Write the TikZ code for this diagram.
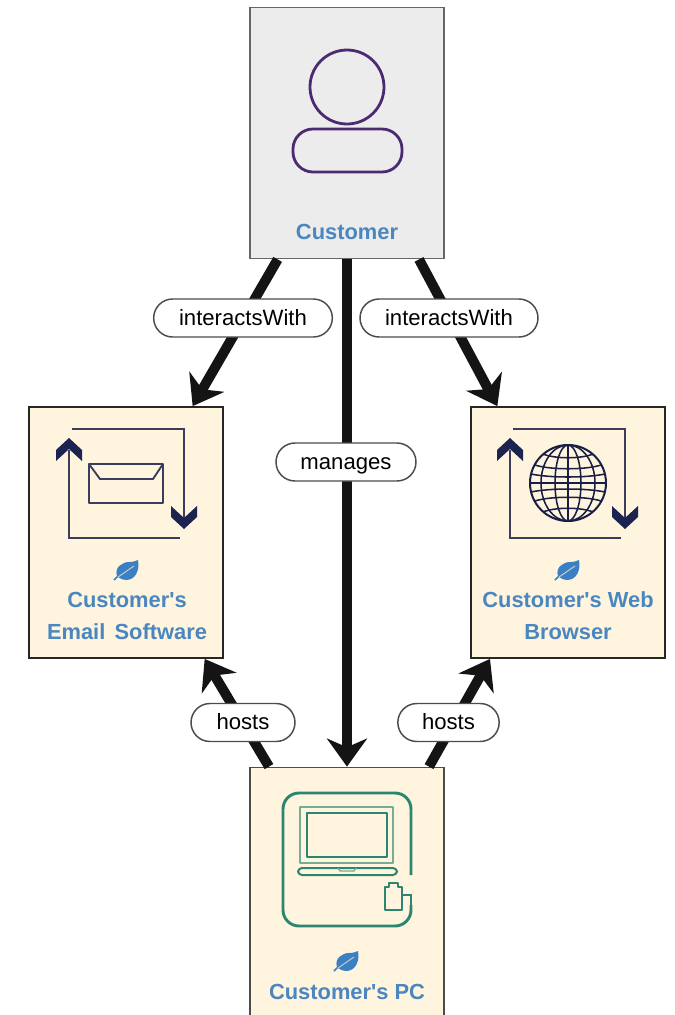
\documentclass[tikz,border=0pt]{standalone}
\usepackage{fontspec}
\setmainfont{Liberation Sans}
\usetikzlibrary{arrows.meta,shapes.misc}
\definecolor{cream}{HTML}{FFF5DF}
\definecolor{greyfill}{HTML}{ECECEC}
\definecolor{titleblue}{HTML}{4A86C0}
\definecolor{leafblue}{HTML}{3B80C2}
\definecolor{navy}{HTML}{1D2350}
\definecolor{iconline}{HTML}{3A3D5C}
\definecolor{teal}{HTML}{2B8570}
\definecolor{plum}{HTML}{4B2A72}
\newcommand{\apos}{\textquotesingle}
\tikzset{
  elementbox/.style={draw=#1,line width=1.1pt,rectangle,minimum width=145.5pt,minimum height=188.5pt,inner sep=0pt},
  boxtitle/.style={font=\fontsize{16.4}{24}\selectfont\bfseries,text=titleblue,align=center,inner sep=0pt},
  pill/.style={rounded rectangle,draw=black!70,line width=1.1pt,fill=white,font=\fontsize{16.6}{20}\selectfont,inner sep=0pt,minimum height=28.5pt,text height=15pt,text depth=3.8pt},
  relation/.style={draw=black!92,line width=7.5pt,-{Stealth[length=21pt,width=30pt,inset=6.5pt]}},
  pics/leaficon/.style={code={
    \fill[leafblue] (-10,5) .. controls (-13,-4) and (-4,-9) .. (2,-9) .. controls (6,-9) and (9,-10) .. (11,-11)
      .. controls (13,0) and (8,9) .. (-1,9) .. controls (-4,9) and (-6,8) .. (-9,6) -- cycle;
    \draw[leafblue,line width=1.1pt] (-9,5) -- (-13,9);
    \draw[cream!70!leafblue,line width=.7pt] (-9,6) .. controls (-3,2) and (1,-1) .. (7,-5);
  }},
  pics/cycleicon/.style={code={
    \draw[iconline,line width=1.9pt] (-55,-54) -- (57,-54) -- (57,36);
    \draw[iconline,line width=1.9pt] (-58,-33) -- (-58,55) -- (53,55);
    \fill[navy] (-58,-45) -- (-45,-33) -- (-45,-22) -- (-58,-34) -- (-71,-22) -- (-71,-33) -- cycle;
    \fill[navy] (57,46) -- (44,34) -- (44,23) -- (57,35) -- (70,23) -- (70,34) -- cycle;
  }}
}
\begin{document}
\begin{tikzpicture}[x=0.75pt,y=-0.75pt]
\useasboundingbox (0,0) rectangle (675,1015);
\clip (0,0) rectangle (675,1015);
\fill[white] (0,0) rectangle (675,1015);
% boxes
\node[elementbox={black!60},fill=greyfill] (cust) at (347,133) {};
\node[elementbox={black!85},fill=cream] (email) at (126,532.5) {};
\node[elementbox={black!85},fill=cream] (browser) at (568,532.5) {};
\node[elementbox={black!70},fill=cream] (pc) at (347,893) {};
% connectors
\draw[relation] ([xshift=-52pt]cust.south) -- ([xshift=50pt]email.north);
\draw[relation] ([xshift=54pt]cust.south) -- ([xshift=-53pt]browser.north);
\draw[relation] (cust.south) -- (pc.north);
\draw[relation] ([xshift=-58.5pt]pc.north) -- ([xshift=59pt]email.south);
\draw[relation] ([xshift=61.5pt]pc.north) -- ([xshift=-58.5pt]browser.south);
% labels on connectors
\node[pill,minimum width=134pt] (l1) at (243,318) {interactsWith};
\node[pill,minimum width=133.5pt] (l2) at (449,318) {interactsWith};
\node[pill,minimum width=105pt] (l3) at (346,462) {manages};
\node[pill,minimum width=78pt] (l4) at (243,722.5) {hosts};
\node[pill,minimum width=76pt] (l5) at (448.5,722.5) {hosts};
% titles
\node[boxtitle] (t1) at (347,232) {Customer};
\node[boxtitle] (t2) at (127,616) {Customer\apos s\\Email\hspace{.42em}Software};
\node[boxtitle] (t3) at (568,616) {Customer\apos s Web\\Browser};
\node[boxtitle] (t4) at (347,992) {Customer\apos s PC};
% leaves
\pic at (127,571) {leaficon};
\pic at (568,571) {leaficon};
\pic at (347,962) {leaficon};
% person
\draw[plum,line width=2.1pt] (347,87) circle [radius=37];
\draw[plum,line width=2.1pt,rounded corners=15pt] (293,129) rectangle (402,172);
% email icon
\pic at (127,483) {cycleicon};
\draw[iconline,line width=1.8pt,line join=round] (89,464) rectangle (163,503);
\draw[iconline,line width=1.4pt] (89,464) -- (100,479) -- (153,479) -- (163,464);
% browser icon
\pic at (568,483) {cycleicon};
\begin{scope}[navy!85!black,line width=1.15pt]
  \draw[line width=1.5pt] (568,483) circle [radius=38];
  \draw (568,445) -- (568,521);
  \draw (568,483) ellipse [x radius=13,y radius=38];
  \draw (568,483) ellipse [x radius=27,y radius=38];
  \draw (530,483) -- (606,483);
  \draw (531,474) .. controls (550,478) and (586,478) .. (605,474);
  \draw (531,492) .. controls (550,488) and (586,488) .. (605,492);
  \draw (535,465) .. controls (550,470) and (586,470) .. (601,465);
  \draw (535,501) .. controls (550,496) and (586,496) .. (601,501);
  \draw (543,454) .. controls (555,459) and (581,459) .. (593,454);
  \draw (543,512) .. controls (555,507) and (581,507) .. (593,512);
\end{scope}
% laptop icon
\begin{scope}[teal,line join=round]
  \draw[line width=2.2pt,rounded corners=12pt] (411,875) -- (411,793) -- (283,793) -- (283,926) -- (411,926) -- (411,905);
  \draw[line width=2.2pt,line join=miter] (411,907) -- (411,895) -- (402,895);
  \draw[line width=1.4pt,teal!65!cream] (300,863) -- (300,807) -- (393,807) -- (393,863) -- cycle;
  \draw[line width=1.7pt] (307,813) rectangle (387,857);
  \draw[line width=1.5pt,rounded corners=3pt] (298,868) rectangle (397,875);
  \draw[line width=1pt,teal!65!cream] (338,868) -- (340,871) -- (354,871) -- (356,868);
  \draw[line width=2pt] (402,895) -- (402,910) -- (385,910) -- (385,887) -- (389,887) -- (389,883) -- (398,883) -- (398,887) -- (402,887) -- (402,895);
\end{scope}
\end{tikzpicture}
\end{document}
